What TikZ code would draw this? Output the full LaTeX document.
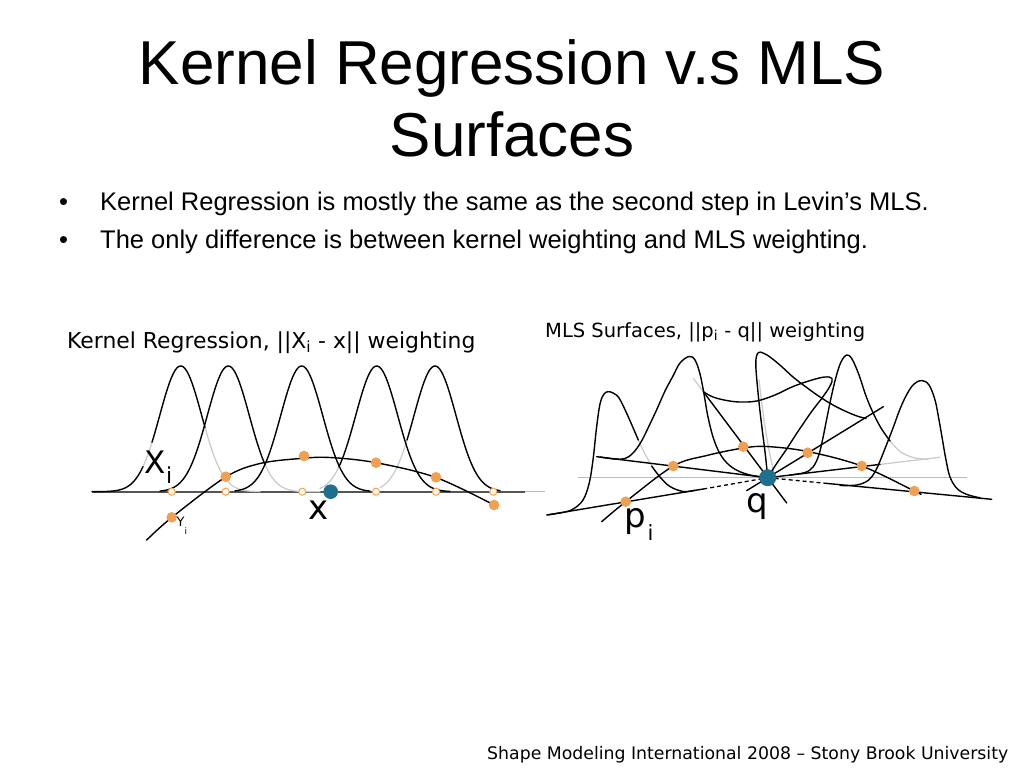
\documentclass[tikz,border=0pt]{standalone}
\usepackage{fontspec}
\setmainfont{Liberation Sans}
\newfontfamily\dejavu{DejaVu Sans}
\definecolor{orng}{HTML}{F0A050}
\definecolor{ltfill}{HTML}{FFF8E6}
\definecolor{qblue}{HTML}{1F6F8F}
\definecolor{axdark}{HTML}{555555}
\definecolor{axlight}{HTML}{BBBBBB}
\definecolor{hidgray}{HTML}{CCCCCC}
\begin{document}
\begin{tikzpicture}[x=1pt,y=-1pt,
  declare function={gk(\x,\c)=491.7-125.7*exp(-0.5*((\x-\c)/21)^2);},
  crv/.style={line width=1.4pt,black,line cap=round,line join=round},
  hid/.style={line width=1.3pt,hidgray,line cap=round,line join=round},
  odot/.style={draw=orng,fill=ltfill,line width=0.9pt},
  txt/.style={inner sep=0pt,anchor=base west},
  dsh/.style={line width=1.3pt,black,dash pattern=on 4pt off 3pt}]
\path[use as bounding box] (0,0) rectangle (1024,768);

% ---------------- title and bullets ----------------
\node[inner sep=0pt,anchor=base,font=\fontsize{62}{62}\selectfont] (t1) at (512,84) {Kernel Regression v.s MLS};
\node[inner sep=0pt,anchor=base,font=\fontsize{62}{62}\selectfont] (t2) at (512,156) {Surfaces};
\node[txt,font=\fontsize{25.5}{26}\selectfont] (bu1) at (59,210) {•};
\node[txt,font=\fontsize{25.5}{26}\selectfont] (b1) at (100,210) {Kernel Regression is mostly the same as the second step in Levin’s MLS.};
\node[txt,font=\fontsize{25.5}{26}\selectfont] (bu2) at (59,248) {•};
\node[txt,font=\fontsize{25.5}{26}\selectfont] (b2) at (100,248) {The only difference is between kernel weighting and MLS weighting.};
\node[txt,font=\dejavu\fontsize{17.3}{18}\selectfont] (foot) at (487,759) {Shape Modeling International 2008 – Stony Brook University};

% ---------------- left diagram ----------------
\node[txt,font=\dejavu\fontsize{21.9}{22}\selectfont] (kl) at (67,348) {Kernel Regression, ||X\textsubscript{i} - x|| weighting};
\draw[line width=1.8pt,axdark] (92,491.7) -- (525,491.7);
\draw[line width=1.5pt,axlight] (525,491.7) -- (545,491.7);
% hidden parts
\draw[hid] plot[domain=143:152,samples=6] (\x,{gk(\x,180.7)});
\draw[hid] plot[domain=205:260,samples=30] (\x,{gk(\x,180.7)});
\draw[hid] plot[domain=265:320,samples=30] (\x,{gk(\x,228.3)});
\draw[hid] plot[domain=320:339,samples=12] (\x,{gk(\x,376.7)});
\draw[hid] plot[domain=380:407,samples=15] (\x,{gk(\x,435)});
% visible parts
\draw[crv] plot[domain=92:143,samples=30] (\x,{gk(\x,180.7)});
\draw[crv] plot[domain=152:205,samples=40] (\x,{gk(\x,180.7)});
\draw[crv] plot[domain=160:265,samples=70] (\x,{gk(\x,228.3)});
\draw[crv] plot[domain=235:370,samples=90] (\x,{gk(\x,301.7)});
\draw[crv] plot[domain=339:450,samples=70] (\x,{gk(\x,376.7)});
\draw[crv] plot[domain=407:500,samples=60] (\x,{gk(\x,435)});
% regression curve
\draw[crv] plot[smooth,tension=0.55] coordinates {(146.7,540) (171.7,517.5) (225.7,477) (260,463.5) (300,458.5) (330,457.5) (376,462.7) (436,477.5) (494,505)};
% sample positions
\foreach \px [count=\k] in {171.7,225.7,302.3,376,436,493.3}
  \path[odot] (\px,491.7) circle[radius=3.6pt];
\foreach \px/\py in {171.7/517.3,225.7/476.7,304/456,376/462.7,436/477.3,494/505}
  \fill[orng] (\px,\py) circle[radius=5.3pt];
\coordinate (x0) at (330.7,491.7);
\fill[qblue] (x0) circle[radius=7.3pt];
\node[txt,font=\dejavu\fontsize{31}{31}\selectfont] (Xi) at (144,473.3) {X};
\node[txt,font=\dejavu\fontsize{22}{22}\selectfont] (Xis) at (166,483.3) {i};
\node[txt,font=\dejavu\fontsize{34}{34}\selectfont] (xl) at (308.5,519) {x};
\node[txt,font=\dejavu\fontsize{13}{13}\selectfont] (Yi) at (176.5,526) {Y};
\node[txt,font=\dejavu\fontsize{9}{9}\selectfont] (Yis) at (184.5,534) {i};

% ---------------- right diagram ----------------
\node[txt,font=\dejavu\fontsize{19.5}{20}\selectfont] (ml) at (545,337) {MLS Surfaces, ||p\textsubscript{i} - q|| weighting};
\draw[line width=1.2pt,axlight] (578,477.7) -- (967,477.7);
\coordinate (q) at (767.7,477.7);
\coordinate (l1a) at (546.7,515);
\coordinate (l1b) at (703.3,489);
\coordinate (l2a) at (596.7,456.7);
\coordinate (l3g) at (693.3,378.3);
\coordinate (l3a) at (703.3,391.7);
\coordinate (l3b) at (786.7,503);
\coordinate (l4a) at (746.7,490.6);
\coordinate (l4b) at (883.3,406.7);
\coordinate (l5a) at (880,464.4);
\coordinate (l5b) at (940,457.3);
\coordinate (l6a) at (826.7,483.4);
\coordinate (l6b) at (991.7,499.3);
% hidden strokes
\draw[hid] (l3g) -- (l3a);
\draw[hid] (l5a) -- (l5b);
\draw[hid] plot[smooth] coordinates {(638.3,440) (644,452) (651.7,466)};
\draw[hid] plot[smooth] coordinates {(890,441) (900,451.5) (913,457.5) (928,459.5)};
\draw[hid] plot[smooth] coordinates {(759,380) (764,420) (769,450) (774,473)};
% planes
\draw[crv] (l1a) -- (l1b);
\draw[dsh] (l1b) -- (q);
\draw[crv] (l2a) -- (q);
\draw[crv] (l3a) -- (l3b);
\draw[crv] (l4a) -- (l4b);
\draw[crv] (q) -- (l5a);
\draw[dsh] (q) -- (l6a);
\draw[crv] (l6a) -- (l6b);
% MLS curve
\draw[crv] plot[smooth,tension=0.55] coordinates {(601.7,521.7) (625.7,501.7) (673.3,466) (706.7,455.5) (743.3,448) (766.7,446.5) (807.7,451.5) (861.7,466) (914.3,491) (921,494.5)};
% kernel on plane 1
\draw[crv] plot[smooth,tension=0.6] coordinates {(548.3,514.8) (565,512) (574,508.5) (583,500) (589,484) (593,460) (596.5,428) (600,404) (604,394) (608.3,391.7) (613,393) (619,398) (627,414) (638.3,440)};
\draw[crv] plot[smooth,tension=0.6] coordinates {(651.7,466) (660,477) (670,486.5) (683.3,491.5) (695,490.3)};
% kernel on plane 2
\draw[crv] plot[smooth,tension=0.6] coordinates {(600,457) (615,459) (625,458.5) (633,453) (641,442) (649,426) (657,409) (665,391) (673,376) (680,363) (689,356.5) (695,360) (700,374) (704,394) (708,417) (714,440) (722,457) (733,468) (748,474.5) (767.7,477.7)};
% kernel on plane 3
\draw[crv] plot[smooth,tension=0.6] coordinates {(703.3,391.7) (713,397) (726.7,400.5) (740,402) (756.7,401) (775,395) (793,386.5) (812,380) (825,377) (832,378.5) (830,386) (822,398) (812,411) (803,424) (794,437.5) (786,450) (777,463) (767.7,477.7)};
% kernel on plane 4
\draw[crv] plot[smooth,tension=0.6] coordinates {(767.7,477.7) (765.5,456) (762.5,432) (759.5,407) (757,382) (755.8,365) (756.5,356) (759,352.3) (763,353) (770,357) (781,366) (793,377) (806,387) (820,397) (833,405) (846,411.5) (857,416) (866,418.5)};
% kernel on plane 5
\draw[crv] plot[smooth,tension=0.6] coordinates {(790,475) (805,472.5) (813,467) (818.5,456) (822.5,440) (826.5,420) (831,398) (836,377) (841,362) (846.7,355) (852,359) (859,375) (866,396) (873.3,413.3) (881,428) (890,441)};
% kernel on plane 6
\draw[crv] plot[smooth,tension=0.6] coordinates {(840,485.5) (856.7,485) (868,480.5) (875,472) (880,461) (886,446) (893,428) (900,409) (907,394) (914,384) (921.7,380.5) (929,385) (935,400) (939,420) (942.5,440) (946,460) (950,477) (957,488.5) (967,494.5) (980,497.8)};
% points
\foreach \px/\py in {625.7/501.7,673.3/466,743.3/446.7,807.7/452.7,861.7/466,914.3/491}
  \fill[orng] (\px,\py) circle[radius=5.3pt];
\fill[qblue] (q) circle[radius=8.5pt];
\node[txt,font=\dejavu\fontsize{34}{34}\selectfont] (ql) at (746,512.5) {q};
\node[txt,font=\dejavu\fontsize{34}{34}\selectfont] (pl) at (624,527) {p};
\node[txt,font=\dejavu\fontsize{21}{21}\selectfont] (pls) at (647.5,540) {i};
\end{tikzpicture}
\end{document}
